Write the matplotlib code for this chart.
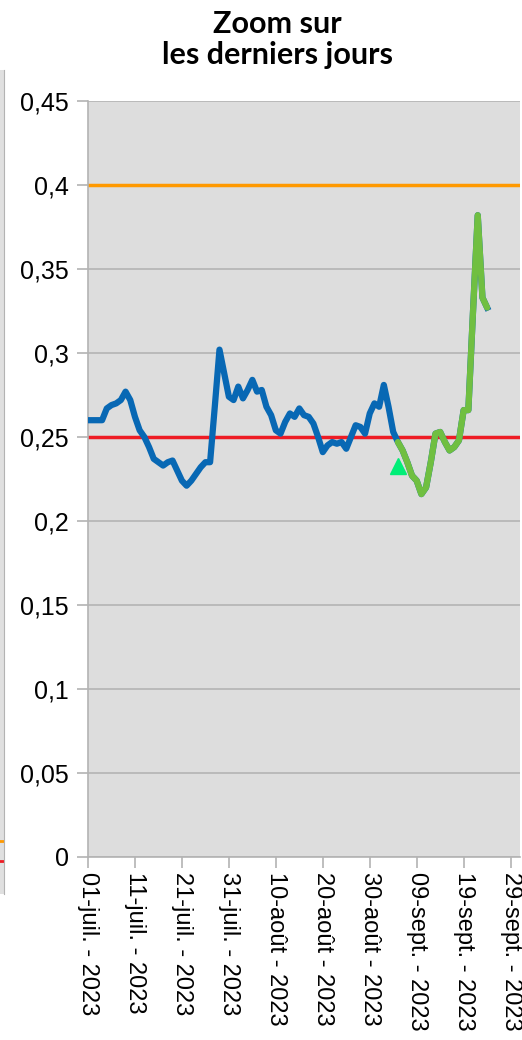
import numpy as np
import pandas as pd
import matplotlib
matplotlib.use('Agg')
import matplotlib.pyplot as plt
import matplotlib.dates as mdates
from matplotlib.ticker import FuncFormatter

# valeurs journalières à partir du 1er juillet 2023
valeurs = [0.260, 0.260, 0.260, 0.260, 0.267, 0.269, 0.270, 0.272, 0.277, 0.272,
           0.262, 0.254, 0.250, 0.244, 0.237, 0.235, 0.233, 0.235, 0.236, 0.230,
           0.224, 0.221, 0.224, 0.228, 0.232, 0.235, 0.235, 0.268, 0.302, 0.288,
           0.274, 0.272, 0.280, 0.273, 0.278, 0.284, 0.277, 0.278, 0.268, 0.263,
           0.254, 0.252, 0.259, 0.264, 0.262, 0.267, 0.263, 0.262, 0.258, 0.250,
           0.241, 0.245, 0.247, 0.246, 0.247, 0.243, 0.250, 0.257, 0.256, 0.252,
           0.264, 0.270, 0.268, 0.281, 0.268, 0.253, 0.247, 0.242, 0.235, 0.227,
           0.224, 0.216, 0.220, 0.235, 0.252, 0.253, 0.247, 0.242, 0.244, 0.248,
           0.266, 0.266, 0.325, 0.382, 0.333, 0.327]
debut_recent = 66          # index où commence la partie verte
point_date = '2023-09-05'  # triangle
point_valeur = 0.233
seuil_haut = 0.40
seuil_bas = 0.25

dates = pd.date_range('2023-07-01', periods=len(valeurs), freq='D')
ticks_dates = pd.date_range('2023-07-01', periods=10, freq='10D')
ticks_labels = ['01-juil. - 2023', '11-juil. - 2023', '21-juil. - 2023', '31-juil. - 2023',
                '10-août - 2023', '20-août - 2023', '30-août - 2023', '09-sept. - 2023',
                '19-sept. - 2023', '29-sept. - 2023']
y_ticks = [0, 0.05, 0.1, 0.15, 0.2, 0.25, 0.3, 0.35, 0.4, 0.45]

plt.rcParams['font.family'] = ['Liberation Sans', 'DejaVu Sans']

W, H = 522, 1040
fig = plt.figure(figsize=(W / 100, H / 100), dpi=100)

# morceau du graphique voisin, coupé sur le bord gauche
ax0 = fig.add_axes([0, 1 - 894 / H, 4 / W, (894 - 70) / H])
ax0.set_facecolor('#e0e0e0')
ax0.set_ylim(0, 6.18)
ax0.axhline(seuil_haut, color='#ff9900', lw=2)
ax0.axhline(seuil_bas, color='#ee1c24', lw=2)
ax0.set_xticks([])
ax0.set_yticks([])
for s in ax0.spines.values():
    s.set_visible(False)
ax0.spines['right'].set_visible(True)
ax0.spines['right'].set_color('#b3b3b3')

ax = fig.add_axes([88 / W, 1 - 857 / H, (520 - 88) / W, (857 - 101) / H])
ax.set_facecolor('#dddddd')

ax.axhline(seuil_haut, color='#ff9900', lw=2.5, zorder=2)
ax.axhline(seuil_bas, color='#ee1c24', lw=2.5, zorder=2)

ax.plot(dates, valeurs, color='#0868b4', lw=4.5, solid_joinstyle='round', zorder=3)
ax.plot(dates[debut_recent:], valeurs[debut_recent:], color='#70bf41', lw=4.5,
        solid_joinstyle='round', solid_capstyle='round', zorder=4)
ax.plot(pd.to_datetime([point_date]), [point_valeur], marker='^', color='#00ee77',
        markersize=12, linestyle='none', zorder=5)

ax.set_xlim(pd.Timestamp('2023-07-01'), pd.Timestamp('2023-10-01'))
ax.set_ylim(0, 0.45)
ax.set_yticks(y_ticks)
ax.yaxis.set_major_formatter(FuncFormatter(lambda v, p: ('%g' % round(v, 2)).replace('.', ',')))
ax.set_xticks(ticks_dates)
ax.set_xticklabels(ticks_labels, rotation=270, va='top', ha='center', fontsize=17)
ax.grid(axis='y', color='#b3b3b3', lw=1.2, zorder=1)
ax.set_axisbelow(True)

for s in ['top', 'right']:
    ax.spines[s].set_visible(False)
for s in ['left', 'bottom']:
    ax.spines[s].set_color('#b3b3b3')
    ax.spines[s].set_linewidth(1.2)
ax.tick_params(axis='both', colors='#b3b3b3', length=8, width=1.2, labelcolor='black')
ax.tick_params(axis='y', pad=6, labelsize=18)
ax.tick_params(axis='x', pad=3)

fig.text(277 / W, 1 - 10 / H, 'Zoom sur\nles derniers jours', ha='center', va='top',
         fontsize=22, fontweight='bold', family=['Lato', 'DejaVu Sans'], linespacing=1.15)

fig.savefig('out.png', dpi=100)
